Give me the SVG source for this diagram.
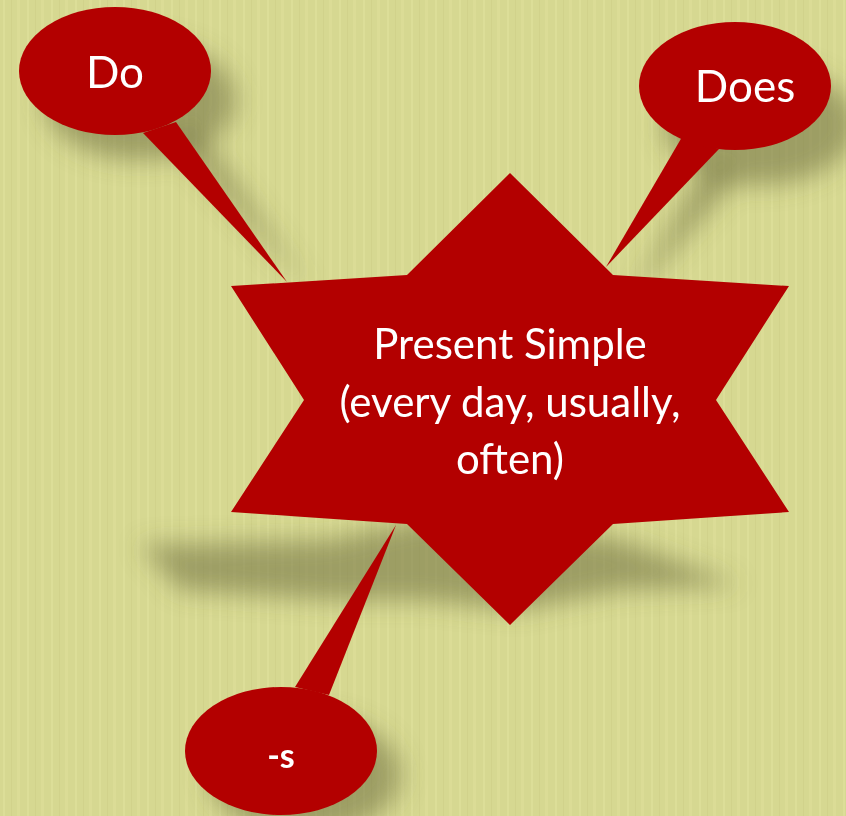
<svg xmlns="http://www.w3.org/2000/svg" width="846" height="816" viewBox="0 0 846 816">
  <style>
    .shape { fill: #b30000; }
    .lbl { fill: #ffffff; font-family: Lato, "Open Sans", "Liberation Sans", sans-serif; text-anchor: middle; }
    .shadow { fill: #6f7040; opacity: 0.55; }
  </style>
  <defs>
    <filter id="blur" x="-50%" y="-50%" width="200%" height="200%">
      <feGaussianBlur stdDeviation="12"/>
    </filter>
    <pattern id="tex" width="24" height="816" patternUnits="userSpaceOnUse">
      <rect width="24" height="816" fill="#d6d891"/>
      <rect x="3" width="2" height="816" fill="#dfe29c" opacity="0.7"/>
      <rect x="11" width="1" height="816" fill="#cfd089" opacity="0.7"/>
      <rect x="17" width="3" height="816" fill="#dde09a" opacity="0.6"/>
    </pattern>
  </defs>
  <rect width="846" height="816" fill="url(#tex)"/>

  <g id="shadows" filter="url(#blur)">
    <ellipse class="shadow" cx="140" cy="100" rx="96" ry="60"/>
    <polygon class="shadow" points="170,140 200,130 310,290"/>
    <ellipse class="shadow" cx="760" cy="125" rx="96" ry="60"/>
    <polygon class="shadow" points="705,165 740,175 630,300"/>
    <polygon class="shadow" points="140,545 330,540 420,520 520,525 620,540 740,585 620,590 520,610 420,600 330,600 180,590"/>
    <ellipse class="shadow" cx="305" cy="775" rx="96" ry="60"/>
  </g>

  <g id="connectors">
    <polygon class="shape" points="143,133 176,122 287,282"/>
    <polygon class="shape" points="682,137 719,149 606,267"/>
    <polygon class="shape" points="295,687 329,695 396,525"/>
  </g>

  <g id="star">
    <polygon class="shape" points="510,173 613,275 789,286 716,400 789,512 613,524 510,625 407,524 231,512 304,400 231,286 407,275"/>
    <text class="lbl" font-size="42"><tspan x="510" y="359">Present Simple</tspan><tspan x="510" y="417">(every day, usually,</tspan><tspan x="510" y="474">often)</tspan></text>
  </g>

  <g id="do">
    <ellipse class="shape" cx="115" cy="71" rx="96" ry="64"/>
    <text class="lbl" x="115" y="88" font-size="44">Do</text>
  </g>

  <g id="does">
    <ellipse class="shape" cx="735" cy="86" rx="96" ry="64"/>
    <text class="lbl" x="745" y="102" font-size="44">Does</text>
  </g>

  <g id="s">
    <ellipse class="shape" cx="281" cy="751" rx="96" ry="64"/>
    <text class="lbl" x="281" y="768" font-size="34" font-weight="bold">-s</text>
  </g>
</svg>
